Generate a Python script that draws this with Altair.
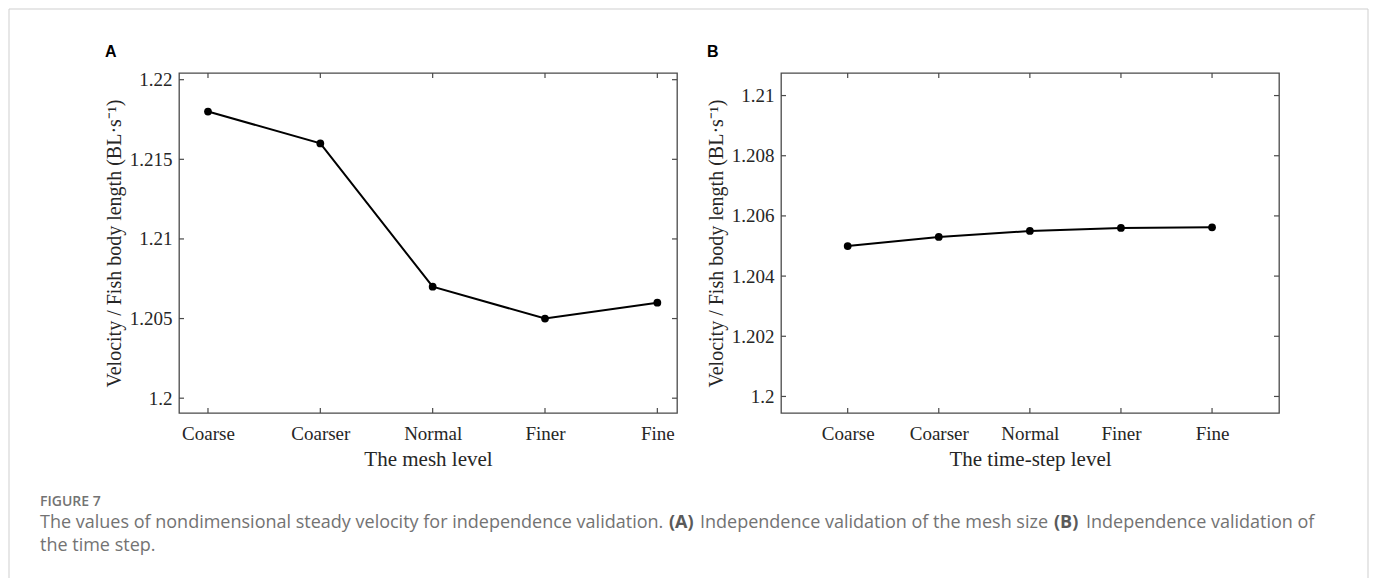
import json

import altair as alt
import pandas as pd

# Refinement levels shared by both panels
levels = ["Coarse", "Coarser", "Normal", "Finer", "Fine"]

# Nondimensional steady velocity (BL/s) for each refinement level
mesh_velocity = [1.218, 1.216, 1.207, 1.205, 1.206]
timestep_velocity = [1.2050, 1.2053, 1.2055, 1.2056, 1.20562]

# Tick values
level_ticks = [1, 2, 3, 4, 5]
mesh_ticks = [1.2, 1.205, 1.21, 1.215, 1.22]
timestep_ticks = [1.2, 1.202, 1.204, 1.206, 1.208, 1.21]

# Axis limits
mesh_xlim = [0.742, 5.175]
mesh_ylim = [1.19907, 1.22042]
timestep_xlim = [0.268, 5.735]
timestep_ylim = [1.19945, 1.21075]

W, H = 498, 340
OX, OY = 179, 73  # origin of the first panel on the page
TICK = 5
INK = "#262626"
FRAME = "#4a4a4a"
SERIF = "Liberation Serif"
Y_TITLE = "Velocity / Fish body length (BL\u00b7s\u207b\u00b9)"

label_expr = json.dumps(levels) + "[datum.value - 1]"


def panel(values, yticks, xlim, ylim, xtitle, letter, caption=False):
    df = pd.DataFrame({"level": level_ticks, "name": levels, "v": values})
    xs = alt.Scale(domain=xlim, nice=False, zero=False)
    ys = alt.Scale(domain=ylim, nice=False, zero=False)

    x_axis = alt.Axis(values=level_ticks, labelExpr=label_expr, title=xtitle,
                      labelPadding=11, titlePadding=5, titleFontSize=21,
                      labelFlush=False, labelOverlap=False)
    y_axis = alt.Axis(values=yticks, format="~f", title=Y_TITLE,
                      labelPadding=7, titlePadding=5, titleFontSize=20,
                      labelOverlap=False)

    def xenc(field):
        return alt.X(field, scale=xs, axis=x_axis)

    def yenc(field):
        return alt.Y(field, scale=ys, axis=y_axis)

    line = alt.Chart(df).mark_line(color="black", strokeWidth=2).encode(
        x=xenc("level:Q"), y=yenc("v:Q"),
    )
    dots = alt.Chart(df).mark_point(filled=True, color="black", size=60, opacity=1).encode(
        x=xenc("level:Q"), y=yenc("v:Q"),
    )

    # inward-pointing ticks on all four sides of the box
    yt = pd.DataFrame({"t": yticks})
    xt = pd.DataFrame({"p": level_ticks})
    rule = dict(color=FRAME, strokeWidth=1.2)
    ticks = [
        alt.Chart(yt).mark_rule(**rule).encode(y=yenc("t:Q"), x=alt.value(0), x2=alt.value(TICK)),
        alt.Chart(yt).mark_rule(**rule).encode(y=yenc("t:Q"), x=alt.value(W - TICK), x2=alt.value(W)),
        alt.Chart(xt).mark_rule(**rule).encode(x=xenc("p:Q"), y=alt.value(H), y2=alt.value(H - TICK)),
        alt.Chart(xt).mark_rule(**rule).encode(x=xenc("p:Q"), y=alt.value(0), y2=alt.value(TICK)),
    ]

    tag = alt.Chart(pd.DataFrame({"t": [letter]})).mark_text(
        align="left", baseline="alphabetic", font="Liberation Sans",
        fontWeight="bold", fontSize=16, color="black",
    ).encode(x=alt.value(-74), y=alt.value(57 - OY), text="t:N")

    layers = [line, dots] + ticks + [tag]

    if caption:
        gray = "#737373"
        bold = "#5a5a5a"
        base = dict(align="left", baseline="alphabetic", font="Open Sans")
        segments = [
            ("FIGURE 7", 40, 506, 14, 600, gray),
            ("The values of nondimensional steady velocity for independence validation.", 40, 528, 18, 400, gray),
            ("(A)", 669, 528, 18, 700, bold),
            ("Independence validation of the mesh size", 700, 528, 18, 400, gray),
            ("(B)", 1054, 528, 18, 700, bold),
            ("Independence validation of", 1086, 528, 18, 400, gray),
            ("the time step.", 40, 551, 18, 400, gray),
        ]
        for text, px, py, fs, fw, col in segments:
            layers.append(
                alt.Chart(pd.DataFrame({"t": [text]})).mark_text(
                    fontSize=fs, fontWeight=fw, color=col, **base
                ).encode(x=alt.value(px - OX), y=alt.value(py - OY), text="t:N")
            )
        # light figure border
        layers.append(
            alt.Chart(pd.DataFrame({"k": [0]})).mark_rect(
                fillOpacity=0, stroke="#cfcfcf", strokeWidth=1
            ).encode(x=alt.value(9 - OX), x2=alt.value(1368 - OX),
                     y=alt.value(9 - OY), y2=alt.value(600 - OY))
        )

    return alt.layer(*layers).properties(width=W, height=H)


panel_a = panel(mesh_velocity, mesh_ticks, mesh_xlim, mesh_ylim,
                "The mesh level", "A", caption=True)
panel_b = panel(timestep_velocity, timestep_ticks, timestep_xlim, timestep_ylim,
                "The time-step level", "B")

chart = (
    alt.hconcat(panel_a, panel_b, spacing=104, bounds="flush")
    .properties(
        padding={"left": OX, "top": OY, "right": 1377 - OX, "bottom": 578 - OY},
        autosize=alt.AutoSizeParams(type="none"),
        background="white",
    )
    .configure_view(stroke=FRAME, strokeWidth=1.3)
    .configure_axis(
        domain=False, ticks=False, grid=False,
        labelFont=SERIF, labelFontSize=19, labelColor=INK,
        titleFont=SERIF, titleFontWeight="normal", titleColor=INK,
    )
)

chart.save("out.html", embed_options={"renderer": "svg", "actions": False})
